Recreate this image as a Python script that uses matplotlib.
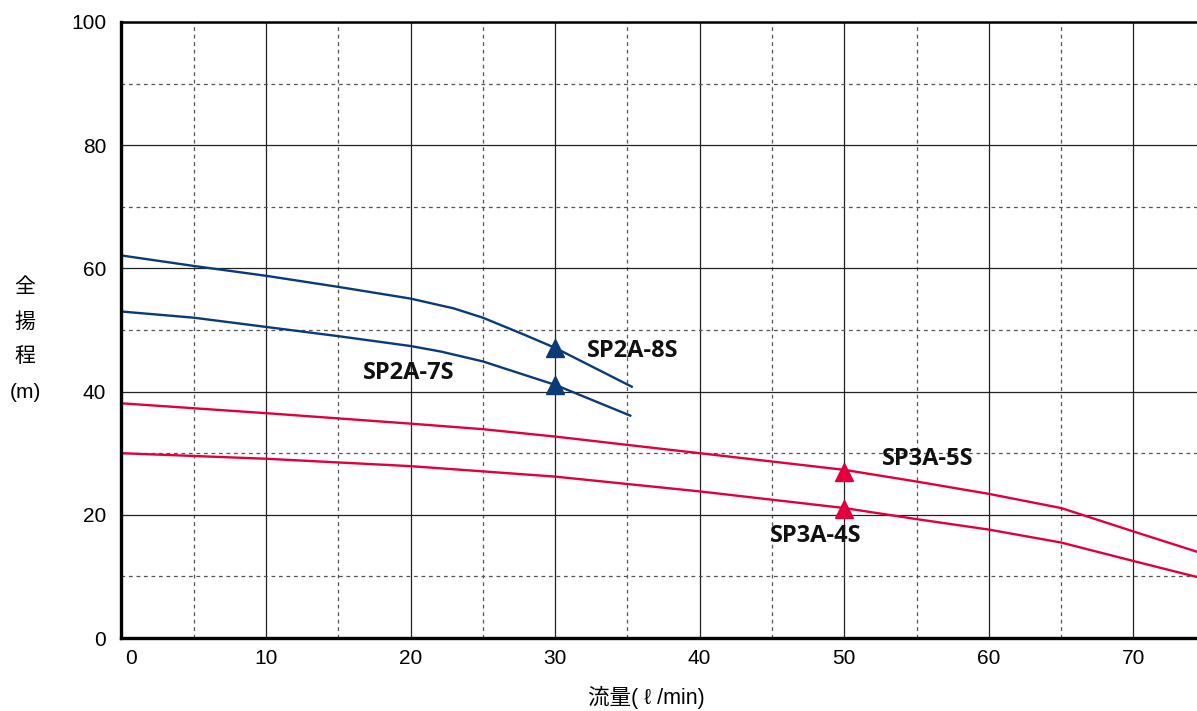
import matplotlib
matplotlib.use('Agg')
import matplotlib.pyplot as plt
from matplotlib.ticker import MultipleLocator
from matplotlib.transforms import ScaledTranslation

plt.rcParams['font.family'] = ['Liberation Sans', 'Noto Sans CJK JP', 'DejaVu Sans']

NAVY = '#0b3a77'
RED = '#e2003c'

# ---- data ----
sp2a8s_q = [0, 5, 10, 15, 20, 23, 25, 27.7, 30, 35.3]
sp2a8s_h = [62.1, 60.4, 58.8, 57.0, 55.1, 53.5, 52.0, 49.4, 47.1, 40.8]

sp2a7s_q = [0, 5, 10, 15, 20, 22.1, 25, 30, 35.2]
sp2a7s_h = [53.0, 52.0, 50.5, 49.0, 47.4, 46.5, 44.9, 41.1, 36.1]

sp3a5s_q = [0, 10, 20, 25, 30, 40, 50, 55, 60, 65, 70, 74.4]
sp3a5s_h = [38.1, 36.5, 34.8, 33.9, 32.7, 30.0, 27.3, 25.4, 23.4, 21.1, 17.3, 14.0]

sp3a4s_q = [0, 10, 20, 30, 40, 50, 55, 60, 65, 70, 74.4]
sp3a4s_h = [30.0, 29.1, 27.9, 26.2, 23.8, 21.1, 19.3, 17.6, 15.5, 12.5, 9.9]

# duty points (triangles)
navy_pts_q = [30, 30]
navy_pts_h = [47, 41]
red_pts_q = [50, 50]
red_pts_h = [27, 21]

# labels: (text, x, y)
labels = [
    ('SP2A-8S', 35.4, 46.6),
    ('SP2A-7S', 19.9, 43.1),
    ('SP3A-5S', 55.8, 29.1),
    ('SP3A-4S', 48.0, 16.6),
]

x_ticks = [0, 10, 20, 30, 40, 50, 60, 70]
y_ticks = [0, 20, 40, 60, 80, 100]

# ---- figure ----
W, H = 1197, 711
fig = plt.figure(figsize=(W / 100, H / 100), dpi=100)
ax = fig.add_axes([121.4 / W, 73 / H, (W - 121.4) / W, (638 - 22) / H])

ax.set_xlim(0, 74.4)
ax.set_ylim(0, 100)

# grid
ax.xaxis.set_major_locator(MultipleLocator(10))
ax.xaxis.set_minor_locator(MultipleLocator(5))
ax.yaxis.set_major_locator(MultipleLocator(20))
ax.yaxis.set_minor_locator(MultipleLocator(10))
ax.grid(which='major', color='#222222', linewidth=0.9, linestyle='-')
ax.grid(which='minor', color='#555555', linewidth=0.9, linestyle=(0, (3, 3)))
ax.set_axisbelow(True)

# curves
ax.plot(sp2a8s_q, sp2a8s_h, color=NAVY, lw=1.7)
ax.plot(sp2a7s_q, sp2a7s_h, color=NAVY, lw=1.7)
ax.plot(sp3a5s_q, sp3a5s_h, color=RED, lw=1.7)
ax.plot(sp3a4s_q, sp3a4s_h, color=RED, lw=1.7)

ax.plot(navy_pts_q, navy_pts_h, ls='none', marker='^', ms=13, color=NAVY)
ax.plot(red_pts_q, red_pts_h, ls='none', marker='^', ms=13, color=RED)

for txt, x, y in labels:
    ax.text(x, y, txt, ha='center', va='center', fontsize=17,
            fontweight='bold', family='Open Sans', color='#111111')

# ticks
ax.set_xticks(x_ticks)
ax.set_yticks(y_ticks)
ax.set_xticklabels([str(v) for v in x_ticks])
ax.set_yticklabels([str(v) for v in y_ticks])
ax.tick_params(which='both', length=0)
ax.tick_params(axis='x', pad=8, labelsize=15)
ax.tick_params(axis='y', pad=11, labelsize=15)
# first x label sits slightly right of the spine
lbl0 = ax.get_xticklabels()[0]
lbl0.set_transform(lbl0.get_transform() + ScaledTranslation(10 / 100, 0, fig.dpi_scale_trans))

# spines
for side in ['left', 'bottom']:
    ax.spines[side].set_linewidth(2.4)
ax.spines['top'].set_linewidth(1.8)
ax.spines['right'].set_visible(False)

# axis titles
fig.text(646 / W, 1 - 697 / H, '流量( ℓ /min)', ha='center', va='center', fontsize=15.5)
for i, s in enumerate(['全', '揚', '程', '(m)']):
    fig.text(25 / W, 1 - (287 + 35 * i) / H, s, ha='center', va='center', fontsize=15)

fig.savefig('out.png', dpi=100)
